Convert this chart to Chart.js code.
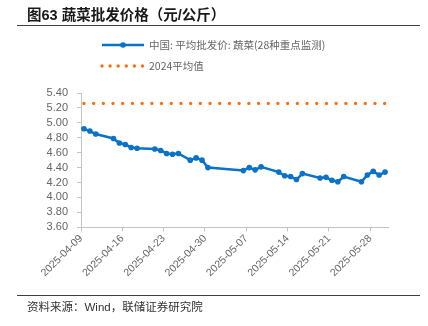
<!DOCTYPE html>
<html>
<head>
<meta charset="utf-8">
<script src="https://cdn.jsdelivr.net/npm/chart.js@4.4.1/dist/chart.umd.min.js"></script>
<style>
  html, body { margin: 0; padding: 0; background: #fff; }
  #wrap { position: relative; width: 428px; height: 326px; overflow: hidden; }
  #chart { position: absolute; left: 0; top: 0; }
  .title {
    position: absolute; left: 27px; top: 3px;
    font: bold 14.5px "Liberation Sans", "Noto Sans CJK SC", sans-serif;
    color: #1a1a1a; white-space: nowrap;
  }
  .rule { position: absolute; left: 17px; width: 403px; height: 1px; background: #404040; }
  .source {
    position: absolute; left: 27px; top: 298px;
    font: 11.5px "Liberation Sans", "Noto Sans CJK SC", sans-serif;
    color: #333; white-space: nowrap;
  }
</style>
</head>
<body>
<div id="wrap">
  <canvas id="chart" width="428" height="326"></canvas>
  <div class="title">图63 蔬菜批发价格（元/公斤）</div>
  <div class="rule" style="top:25px"></div>
  <div class="rule" style="top:295px"></div>
  <div class="source">资料来源：Wind，联储证券研究院</div>
</div>
<script>
// 📦 DATA
const startDate = "2025-04-09";
const endDate = "2025-05-31";

const dates = [
  "2025-04-09", "2025-04-10", "2025-04-11", "2025-04-14", "2025-04-15", "2025-04-16",
  "2025-04-17", "2025-04-18", "2025-04-21", "2025-04-22", "2025-04-23", "2025-04-24",
  "2025-04-25", "2025-04-27", "2025-04-28", "2025-04-29", "2025-04-30", "2025-05-06",
  "2025-05-07", "2025-05-08", "2025-05-09", "2025-05-12", "2025-05-13", "2025-05-14",
  "2025-05-15", "2025-05-16", "2025-05-19", "2025-05-20", "2025-05-21", "2025-05-22",
  "2025-05-23", "2025-05-26", "2025-05-27", "2025-05-28", "2025-05-29", "2025-05-30"
];

const vegPrice = [
  4.92, 4.89, 4.85, 4.79, 4.73, 4.71,
  4.67, 4.66, 4.65, 4.63, 4.59, 4.58,
  4.59, 4.50, 4.53, 4.50, 4.40, 4.36,
  4.40, 4.37, 4.41, 4.34, 4.29, 4.28,
  4.24, 4.32, 4.26, 4.27, 4.23, 4.21,
  4.28, 4.21, 4.30, 4.35, 4.30, 4.34
];

const avg2024 = 5.26;

const tickDates = [
  "2025-04-09", "2025-04-16", "2025-04-23", "2025-04-30",
  "2025-05-07", "2025-05-14", "2025-05-21", "2025-05-28"
];

const yMin = 3.6;
const yMax = 5.4;
const yStep = 0.2;

const seriesLabel = "中国: 平均批发价: 蔬菜(28种重点监测)";
const avgLabel = "2024平均值";

// days since start date (points sit at the middle of their day)
function dayIndex(d) {
  return (Date.parse(d) - Date.parse(startDate)) / 86400000;
}

function dayLabel(v) {
  return new Date(Date.parse(startDate) + v * 86400000).toISOString().slice(0, 10);
}

const BLUE = "#0a72c8";
const ORANGE = "#ff6a0d";
const GREY = "#666";
const AXIS = "#c4c4c4";

// 🏷️ LEGEND (stacked, drawn next to the plot)
const legendLines = {
  id: "legendLines",
  afterDraw(chart) {
    const ctx = chart.ctx;
    const x0 = 102, x1 = 144, tx = 149;
    const rows = [45, 66];
    ctx.save();
    ctx.font = '10.5px "Noto Sans CJK SC", sans-serif';
    ctx.fillStyle = GREY;
    ctx.textBaseline = "middle";

    chart.data.datasets.forEach((ds, i) => {
      const y = rows[i];
      ctx.beginPath();
      ctx.strokeStyle = ds.borderColor;
      ctx.lineWidth = ds.borderWidth;
      ctx.lineCap = ds.borderCapStyle || "butt";
      ctx.setLineDash(ds.legendDash || []);
      ctx.moveTo(x0, y);
      ctx.lineTo(x1, y);
      ctx.stroke();
      ctx.setLineDash([]);
      if (ds.pointRadius > 0) {
        ctx.beginPath();
        ctx.fillStyle = ds.pointBackgroundColor;
        ctx.arc((x0 + x1) / 2, y, ds.pointRadius, 0, Math.PI * 2);
        ctx.fill();
      }
      ctx.fillStyle = GREY;
      ctx.fillText(ds.label, tx, y + 0.5);
    });
    ctx.restore();
  }
};

// 📊 CHART
const ctx = document.getElementById("chart").getContext("2d");

new Chart(ctx, {
  type: "line",
  data: {
    datasets: [
      {
        label: seriesLabel,
        data: dates.map((d, i) => ({ x: dayIndex(d) + 0.5, y: vegPrice[i] })),
        borderColor: BLUE,
        backgroundColor: BLUE,
        borderWidth: 2.5,
        pointRadius: 2.8,
        pointBackgroundColor: BLUE,
        pointBorderWidth: 0,
        tension: 0
      },
      {
        label: avgLabel,
        data: [
          { x: dayIndex(dates[0]) + 0.5, y: avg2024 },
          { x: dayIndex(dates[dates.length - 1]) + 0.5, y: avg2024 }
        ],
        borderColor: ORANGE,
        backgroundColor: ORANGE,
        borderWidth: 3.3,
        borderCapStyle: "round",
        borderDash: [0, 9.7],
        legendDash: [0, 8.1],
        pointRadius: 0,
        tension: 0
      }
    ]
  },
  options: {
    responsive: false,
    animation: false,
    devicePixelRatio: 1,
    layout: { padding: { top: 93, right: 40, left: 0, bottom: 0 } },
    plugins: {
      legend: { display: false },
      tooltip: { enabled: false }
    },
    scales: {
      x: {
        type: "linear",
        min: dayIndex(startDate),
        max: dayIndex(endDate),
        afterBuildTicks: (scale) => {
          scale.ticks = tickDates.map(d => ({ value: dayIndex(d) }));
        },
        afterFit: (scale) => { scale.height = 98.7; },
        ticks: {
          autoSkip: false,
          maxRotation: 45,
          minRotation: 45,
          padding: 1,
          color: GREY,
          font: { family: "Liberation Sans", size: 10.5 },
          callback: (v) => dayLabel(v)
        },
        grid: {
          drawOnChartArea: false,
          drawTicks: true,
          tickLength: 4,
          color: AXIS
        },
        border: { display: true, color: AXIS, width: 1 }
      },
      y: {
        min: yMin,
        max: yMax,
        afterFit: (scale) => { scale.width = 81; },
        ticks: {
          autoSkip: false,
          stepSize: yStep,
          padding: 9,
          color: GREY,
          font: { family: "Liberation Sans", size: 11 },
          callback: (v) => Number(v).toFixed(2)
        },
        grid: {
          drawOnChartArea: false,
          drawTicks: true,
          tickLength: 4,
          color: AXIS
        },
        border: { display: true, color: AXIS, width: 1 }
      }
    }
  },
  plugins: [legendLines]
});
</script>
</body>
</html>
